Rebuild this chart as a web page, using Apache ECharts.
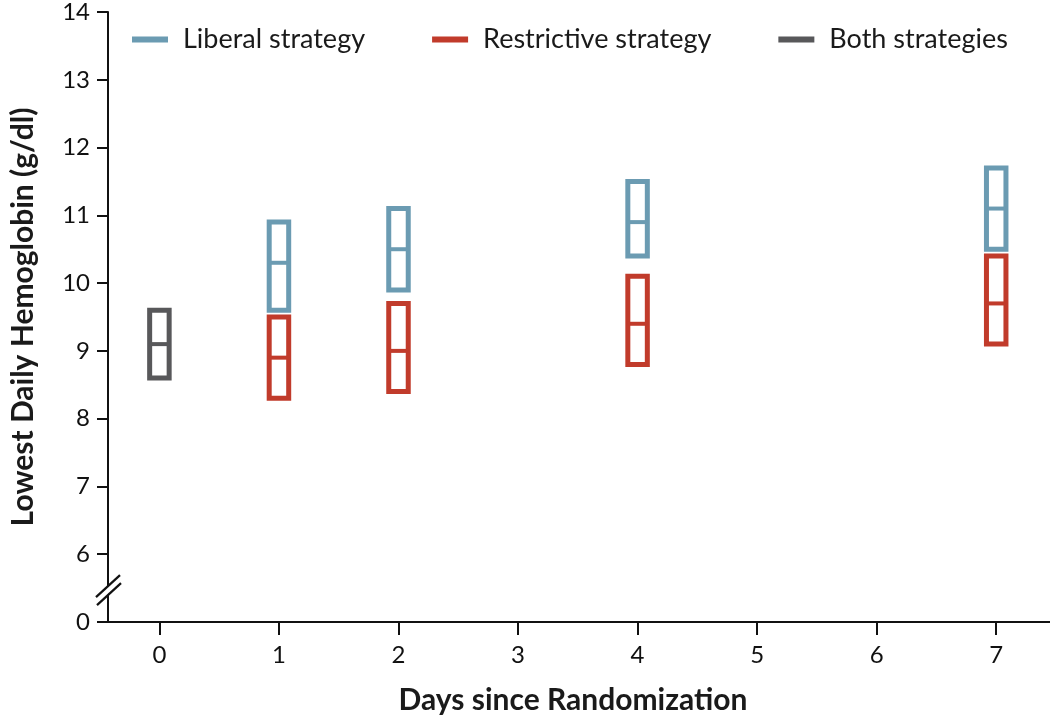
<!DOCTYPE html>
<html>
<head>
<meta charset="utf-8">
<script src="https://cdn.jsdelivr.net/npm/echarts@6/dist/echarts.min.js"></script>
<style>
html,body{margin:0;padding:0;background:#fff;}
#chart{width:1050px;height:726px;}
</style>
</head>
<body>
<div id="chart"></div>
<script>
// ---- data ----
var dayTicks = [0, 1, 2, 3, 4, 5, 6, 7];
var yTickLabels = {5: '0'}; // bottom tick after the axis break represents 0

var bothDays = [0];
var bothLow  = [8.6];
var bothMean = [9.1];
var bothHigh = [9.6];

var liberalDays = [1, 2, 4, 7];
var liberalLow  = [9.6, 9.9, 10.4, 10.5];
var liberalMean = [10.3, 10.5, 10.9, 11.1];
var liberalHigh = [10.9, 11.1, 11.5, 11.7];

var restrictiveDays = [1, 2, 4, 7];
var restrictiveLow  = [8.3, 8.4, 8.8, 9.1];
var restrictiveMean = [8.9, 9.0, 9.4, 9.7];
var restrictiveHigh = [9.5, 9.7, 10.1, 10.4];

var colors = {liberal: '#6b9bb2', restrictive: '#c13b2b', both: '#58585a'};

function rows(days, low, mean, high) {
  return days.map(function (d, i) { return [d, low[i], mean[i], high[i]]; });
}

function renderBox(params, api) {
  var x = api.value(0);
  var pLow = api.coord([x, api.value(1)]);
  var pMean = api.coord([x, api.value(2)]);
  var pHigh = api.coord([x, api.value(3)]);
  var hw = 9.75;
  var color = api.visual('color');
  return {
    type: 'group',
    children: [
      {
        type: 'rect',
        shape: {x: pHigh[0] - hw, y: pHigh[1], width: hw * 2, height: pLow[1] - pHigh[1]},
        style: {fill: 'none', stroke: color, lineWidth: 5}
      },
      {
        type: 'line',
        shape: {x1: pMean[0] - hw, y1: pMean[1], x2: pMean[0] + hw, y2: pMean[1]},
        style: {stroke: color, lineWidth: 4}
      }
    ]
  };
}

var chart = echarts.init(document.getElementById('chart'));
var fontFam = 'Lato, "Open Sans", sans-serif';

var option = {
  animation: false,
  backgroundColor: '#fff',
  textStyle: {fontFamily: fontFam},
  grid: {left: 107, right: 0, top: 12, bottom: 104, containLabel: false},
  legend: {
    left: 127, top: 21,
    icon: 'rect', itemWidth: 36, itemHeight: 6, itemGap: 67,
    textStyle: {fontSize: 27, color: '#1a1a1a', fontFamily: fontFam, padding: [0, 0, 0, 10]},
    data: ['Liberal strategy', 'Restrictive strategy', 'Both strategies']
  },
  xAxis: {
    type: 'value', min: -0.43, max: 7.45,
    name: 'Days since Randomization', nameLocation: 'middle', nameGap: 63,
    nameTextStyle: {fontSize: 30, fontWeight: 'bold', color: '#1a1a1a', fontFamily: fontFam, padding: [0, 12, 0, 0]},
    axisLine: {onZero: false, lineStyle: {color: '#111', width: 2}},
    axisTick: {show: true, length: 13, lineStyle: {color: '#111', width: 2}, customValues: dayTicks},
    axisLabel: {fontSize: 24, color: '#111', margin: 21, customValues: dayTicks},
    splitLine: {show: false}
  },
  yAxis: {
    type: 'value', min: 5, max: 14, interval: 1,
    name: 'Lowest Daily Hemoglobin (g/dl)', nameLocation: 'middle', nameGap: 70,
    nameTextStyle: {fontSize: 30, fontWeight: 'bold', color: '#1a1a1a', fontFamily: fontFam},
    axisLine: {show: true, onZero: false, lineStyle: {color: '#111', width: 2}},
    axisTick: {show: true, length: 11, lineStyle: {color: '#111', width: 2}},
    axisLabel: {
      fontSize: 24, color: '#111', margin: 18,
      formatter: function (v) { return yTickLabels[v] !== undefined ? yTickLabels[v] : String(v); }
    },
    splitLine: {show: false}
  },
  series: [
    {name: 'Liberal strategy', type: 'custom', renderItem: renderBox,
     itemStyle: {color: colors.liberal}, encode: {x: 0, y: [1, 2, 3]},
     data: rows(liberalDays, liberalLow, liberalMean, liberalHigh)},
    {name: 'Restrictive strategy', type: 'custom', renderItem: renderBox,
     itemStyle: {color: colors.restrictive}, encode: {x: 0, y: [1, 2, 3]},
     data: rows(restrictiveDays, restrictiveLow, restrictiveMean, restrictiveHigh)},
    {name: 'Both strategies', type: 'custom', renderItem: renderBox,
     itemStyle: {color: colors.both}, encode: {x: 0, y: [1, 2, 3]},
     data: rows(bothDays, bothLow, bothMean, bothHigh)}
  ]
};
chart.setOption(option);

// axis-break marker on the y axis, positioned through the axis scale
var bx = chart.convertToPixel({xAxisIndex: 0}, -0.43);
var by = chart.convertToPixel({yAxisIndex: 0}, 5.47);
chart.setOption({
  graphic: [
    {type: 'polygon', z: 100,
     shape: {points: [[bx - 12, by + 7], [bx + 12, by - 15], [bx + 12, by - 7], [bx - 12, by + 15]]},
     style: {fill: '#fff'}},
    {type: 'line', z: 101, shape: {x1: bx - 12, y1: by + 7, x2: bx + 12, y2: by - 15},
     style: {stroke: '#111', lineWidth: 2.2}},
    {type: 'line', z: 101, shape: {x1: bx - 11, y1: by + 15, x2: bx + 13, y2: by - 7},
     style: {stroke: '#111', lineWidth: 2.2}}
  ]
});
</script>
</body>
</html>
